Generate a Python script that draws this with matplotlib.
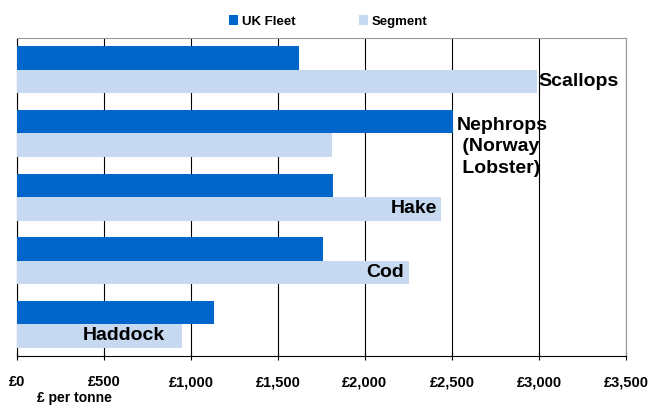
import numpy as np
import matplotlib
matplotlib.use('Agg')
import matplotlib.pyplot as plt

# Data, top to bottom
species = ['Scallops', 'Nephrops\n (Norway\n Lobster)', 'Hake', 'Cod', 'Haddock']
uk_fleet = [1620, 2505, 1815, 1760, 1135]
segment = [2990, 1810, 2440, 2255, 950]
x_ticks = [0, 500, 1000, 1500, 2000, 2500, 3000, 3500]
x_labels = ['£0', '£500', '£1,000', '£1,500', '£2,000', '£2,500', '£3,000', '£3,500']

dark_blue = '#0066CC'
light_blue = '#C6D9F1'

plt.rcParams['font.family'] = ['Liberation Sans', 'DejaVu Sans']

fig = plt.figure(figsize=(6.5, 4.05), dpi=100)
ax = fig.add_axes([0.026, 0.121, 0.937, 0.785])

y = np.arange(len(species))
h = 0.37
ax.barh(y - h / 2, uk_fleet, height=h, color=dark_blue, label='UK Fleet', zorder=3)
ax.barh(y + h / 2, segment, height=h, color=light_blue, label='Segment', zorder=3)

ax.set_ylim(len(species) - 0.5, -0.5)
ax.set_xlim(0, 3500)
ax.set_yticks([])
ax.set_xticks(x_ticks)
ax.set_xticklabels(x_labels, fontsize=10.5, fontweight='bold')
ax.tick_params(axis='x', direction='inout', length=6, pad=11, width=0.8)
ax.xaxis.grid(True, color='black', linewidth=0.8, zorder=0)

for side in ['top', 'right']:
    ax.spines[side].set_color('#999999')

# Category labels
lab_kw = dict(fontsize=14, fontweight='bold', zorder=4)
ax.text(segment[0] + 6, y[0] + h / 2, 'Scallops', ha='left', va='center', **lab_kw)
ax.text(uk_fleet[1] + 25, y[1] - h / 2 - 0.08, species[1], ha='left', va='top',
        linespacing=1.35, **lab_kw)
ax.text(segment[2] - 23, y[2] + h / 2, 'Hake', ha='right', va='center', **lab_kw)
ax.text(segment[3] - 28, y[3] + h / 2, 'Cod', ha='right', va='center', **lab_kw)
ax.text(segment[4] - 98, y[4] + h / 2, 'Haddock', ha='right', va='center', **lab_kw)

fig.legend(loc='center', bbox_to_anchor=(0.505, 0.947), ncol=2, frameon=False,
           prop={'size': 9.5, 'weight': 'bold'}, handlelength=0.7, handleheight=0.7,
           handletextpad=0.3, columnspacing=4.8)

fig.text(0.057, 0.018, '£ per tonne', fontsize=10, fontweight='bold', va='center')

fig.savefig('out.png', dpi=100)
